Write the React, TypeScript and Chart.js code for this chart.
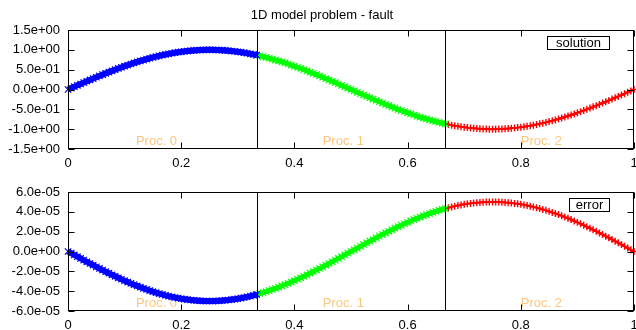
import React, { useEffect, useRef } from 'react';
import { Chart, registerables } from 'chart.js';

Chart.register(...registerables);

// ---------- data ----------
const chartTitle = '1D model problem - fault';
const xTickValues = [0, 0.2, 0.4, 0.6, 0.8, 1];
const xTickLabels = ['0', '0.2', '0.4', '0.6', '0.8', '1'];
const solutionTickValues = [-1.5, -1, -0.5, 0, 0.5, 1, 1.5];
const solutionTickLabels = ['-1.5e+00', '-1.0e+00', '-5.0e-01', '0.0e+00', '5.0e-01', '1.0e+00', '1.5e+00'];
const errorTickValues = [-6e-5, -4e-5, -2e-5, 0, 2e-5, 4e-5, 6e-5];
const errorTickLabels = ['-6.0e-05', '-4.0e-05', '-2.0e-05', '0.0e+00', '2.0e-05', '4.0e-05', '6.0e-05'];

// samples evenly spaced over [0, 1] (181 samples)
const solution = [
  0, 0.035, 0.070, 0.105, 0.139, 0.174, 0.208, 0.242, 0.276, 0.309,
  0.342, 0.375, 0.407, 0.438, 0.469, 0.500, 0.530, 0.559, 0.588, 0.616,
  0.643, 0.669, 0.695, 0.719, 0.743, 0.766, 0.788, 0.809, 0.829, 0.848,
  0.866, 0.883, 0.899, 0.914, 0.927, 0.940, 0.951, 0.961, 0.970, 0.978,
  0.985, 0.990, 0.995, 0.998, 0.999, 1.000, 0.999, 0.998, 0.995, 0.990,
  0.985, 0.978, 0.970, 0.961, 0.951, 0.940, 0.927, 0.914, 0.899, 0.883,
  0.866, 0.848, 0.829, 0.809, 0.788, 0.766, 0.743, 0.719, 0.695, 0.669,
  0.643, 0.616, 0.588, 0.559, 0.530, 0.500, 0.469, 0.438, 0.407, 0.375,
  0.342, 0.309, 0.276, 0.242, 0.208, 0.174, 0.139, 0.105, 0.070, 0.035,
  0,
  -0.035, -0.070, -0.105, -0.139, -0.174, -0.208, -0.242, -0.276, -0.309, -0.342,
  -0.375, -0.407, -0.438, -0.469, -0.500, -0.530, -0.559, -0.588, -0.616, -0.643,
  -0.669, -0.695, -0.719, -0.743, -0.766, -0.788, -0.809, -0.829, -0.848, -0.866,
  -0.883, -0.899, -0.914, -0.927, -0.940, -0.951, -0.961, -0.970, -0.978, -0.985,
  -0.990, -0.995, -0.998, -0.999, -1.000, -0.999, -0.998, -0.995, -0.990, -0.985,
  -0.978, -0.970, -0.961, -0.951, -0.940, -0.927, -0.914, -0.899, -0.883, -0.866,
  -0.848, -0.829, -0.809, -0.788, -0.766, -0.743, -0.719, -0.695, -0.669, -0.643,
  -0.616, -0.588, -0.559, -0.530, -0.500, -0.469, -0.438, -0.407, -0.375, -0.342,
  -0.309, -0.276, -0.242, -0.208, -0.174, -0.139, -0.105, -0.070, -0.035, 0,
];

// error, in units of 1e-5
const errorE5 = [
  0, -0.17, -0.35, -0.52, -0.70, -0.87, -1.04, -1.21, -1.38, -1.55,
  -1.71, -1.87, -2.04, -2.19, -2.35, -2.50, -2.65, -2.80, -2.94, -3.08,
  -3.22, -3.35, -3.47, -3.60, -3.72, -3.83, -3.94, -4.05, -4.15, -4.24,
  -4.33, -4.42, -4.50, -4.57, -4.64, -4.70, -4.76, -4.81, -4.85, -4.89,
  -4.92, -4.95, -4.97, -4.99, -5.00, -5.00, -5.00, -4.99, -4.97, -4.95,
  -4.92, -4.89, -4.85, -4.81, -4.76, -4.70, -4.64, -4.57, -4.50, -4.42,
  -4.33, -4.24, -4.15, -4.05, -3.94, -3.83, -3.72, -3.60, -3.47, -3.35,
  -3.22, -3.08, -2.94, -2.80, -2.65, -2.50, -2.35, -2.19, -2.04, -1.87,
  -1.71, -1.55, -1.38, -1.21, -1.04, -0.87, -0.70, -0.52, -0.35, -0.17,
  0,
  0.17, 0.35, 0.52, 0.70, 0.87, 1.04, 1.21, 1.38, 1.55, 1.71,
  1.87, 2.04, 2.19, 2.35, 2.50, 2.65, 2.80, 2.94, 3.08, 3.22,
  3.35, 3.47, 3.60, 3.72, 3.83, 3.94, 4.05, 4.15, 4.24, 4.33,
  4.42, 4.50, 4.57, 4.64, 4.70, 4.76, 4.81, 4.85, 4.89, 4.92,
  4.95, 4.97, 4.99, 5.00, 5.00, 5.00, 4.99, 4.97, 4.95, 4.92,
  4.89, 4.85, 4.81, 4.76, 4.70, 4.64, 4.57, 4.50, 4.42, 4.33,
  4.24, 4.15, 4.05, 3.94, 3.83, 3.72, 3.60, 3.47, 3.35, 3.22,
  3.08, 2.94, 2.80, 2.65, 2.50, 2.35, 2.19, 2.04, 1.87, 1.71,
  1.55, 1.38, 1.21, 1.04, 0.87, 0.70, 0.52, 0.35, 0.17, 0,
];

const procNames = ['Proc. 0', 'Proc. 1', 'Proc. 2'];
const procFirstSample = [0, 60, 120];
const procLastSample = [60, 120, 180];
const procBoundaries = [1 / 3, 2 / 3];
const procLabelX = [0.12, 0.45, 0.8];

// ---------- styles ----------
const FONT = "'Liberation Sans', Arial, Helvetica, sans-serif";
const CANVAS_W = 640; // wider than the view; the right edge is cut like the reference
const procStyles = [
  { color: '#0000ff', pointStyle: 'crossRot', lineWidth: 6, radius: 4.5, pw: 1.2 },
  { color: '#00ff00', pointStyle: 'crossRot', lineWidth: 5, radius: 4.5, pw: 1.2 },
  { color: '#ff0000', pointStyle: 'cross', lineWidth: 2, radius: 3.5, pw: 1.4 },
];

function buildDatasets(values: number[], scale: number) {
  const n = values.length - 1;
  return procNames.map((name, p) => {
    const st = procStyles[p];
    const pts = [] as { x: number; y: number }[];
    for (let i = procFirstSample[p]; i <= procLastSample[p]; i++) {
      pts.push({ x: i / n, y: values[i] * scale });
    }
    return {
      label: name,
      data: pts,
      showLine: true,
      borderColor: st.color,
      borderWidth: st.lineWidth,
      pointStyle: st.pointStyle,
      pointRadius: st.radius,
      pointBorderWidth: st.pw,
      pointBorderColor: st.color,
      pointBackgroundColor: st.color,
      clip: false,
    } as any;
  });
}

function decorPlugin(cfg: {
  title?: string;
  legendLabel: string;
  legendWidth: number;
  yTicks: number[];
}) {
  return {
    id: 'decor',
    beforeDatasetsDraw(chart: any) {
      const { ctx, chartArea: a, scales } = chart;
      ctx.save();
      ctx.font = `13px ${FONT}`;
      ctx.fillStyle = '#fbc67d';
      ctx.textAlign = 'left';
      ctx.textBaseline = 'middle';
      procNames.forEach((nm, i) => {
        ctx.fillText(nm, scales.x.getPixelForValue(procLabelX[i]), a.bottom - 8);
      });
      ctx.restore();
    },
    afterDatasetsDraw(chart: any) {
      const { ctx, chartArea: a, scales } = chart;
      const L = Math.round(a.left) + 0.5;
      const R = Math.round(a.right) - 0.5;
      const T = Math.round(a.top) + 0.5;
      const B = Math.round(a.bottom) - 0.5;
      ctx.save();
      ctx.strokeStyle = '#000';
      ctx.lineWidth = 1;
      procBoundaries.forEach((bx) => {
        const px = Math.round(scales.x.getPixelForValue(bx)) + 0.5;
        ctx.beginPath();
        ctx.moveTo(px, T);
        ctx.lineTo(px, B);
        ctx.stroke();
      });
      ctx.strokeRect(L, T, R - L, B - T);
      const tl = 6;
      ctx.beginPath();
      xTickValues.forEach((v) => {
        const px = Math.round(scales.x.getPixelForValue(v)) + 0.5;
        ctx.moveTo(px, B);
        ctx.lineTo(px, B - tl);
        ctx.moveTo(px, T);
        ctx.lineTo(px, T + tl);
      });
      cfg.yTicks.forEach((v) => {
        const py = Math.round(scales.y.getPixelForValue(v)) + 0.5;
        ctx.moveTo(L, py);
        ctx.lineTo(L + tl, py);
        ctx.moveTo(R, py);
        ctx.lineTo(R - tl, py);
      });
      ctx.stroke();
      const bw = cfg.legendWidth;
      const bx = Math.round(a.right - 25 - bw) + 0.5;
      const by = Math.round(a.top + 6) + 0.5;
      ctx.strokeRect(bx, by, bw, 13);
      ctx.fillStyle = '#000';
      ctx.font = `13px ${FONT}`;
      ctx.textAlign = 'center';
      ctx.textBaseline = 'middle';
      ctx.fillText(cfg.legendLabel, bx + bw / 2, by + 7);
      if (cfg.title) {
        ctx.fillText(cfg.title, 322, 15);
      }
      ctx.restore();
    },
  };
}

function makeOptions(opts: {
  padTop: number;
  xHeight: number;
  yTicks: number[];
  yLabels: string[];
}) {
  const tickFont = { family: FONT, size: 13 };
  return {
    responsive: false,
    animation: false,
    events: [],
    layout: { padding: { top: opts.padTop, left: 0, right: 6, bottom: 0 } },
    plugins: {
      legend: { display: false },
      tooltip: { enabled: false },
      title: { display: false },
    },
    scales: {
      x: {
        type: 'linear',
        min: 0,
        max: 1,
        grid: { display: false, drawTicks: false },
        border: { display: false },
        afterBuildTicks: (s: any) => {
          s.ticks = xTickValues.map((v) => ({ value: v }));
        },
        ticks: {
          autoSkip: false,
          maxRotation: 0,
          padding: 7,
          color: '#000',
          font: tickFont,
          callback: (_v: any, i: number) => xTickLabels[i],
        },
        afterFit: (s: any) => {
          s.height = opts.xHeight;
          s.paddingLeft = 0;
          s.paddingRight = 0;
        },
      },
      y: {
        type: 'linear',
        min: opts.yTicks[0],
        max: opts.yTicks[opts.yTicks.length - 1],
        grid: { display: false, drawTicks: false },
        border: { display: false },
        afterBuildTicks: (s: any) => {
          s.ticks = opts.yTicks.map((v) => ({ value: v }));
        },
        ticks: {
          autoSkip: false,
          padding: 8,
          color: '#000',
          font: tickFont,
          callback: (_v: any, i: number) => opts.yLabels[i],
        },
        afterFit: (s: any) => {
          s.width = 68;
          s.paddingTop = 0;
          s.paddingBottom = 0;
        },
      },
    },
  } as any;
}

export default function App() {
  const topRef = useRef<HTMLCanvasElement>(null);
  const botRef = useRef<HTMLCanvasElement>(null);

  useEffect(() => {
    const c1 = new Chart(topRef.current as HTMLCanvasElement, {
      type: 'scatter',
      data: { datasets: buildDatasets(solution, 1) },
      options: makeOptions({
        padTop: 30,
        xHeight: 21,
        yTicks: solutionTickValues,
        yLabels: solutionTickLabels,
      }),
      plugins: [
        decorPlugin({
          title: chartTitle,
          legendLabel: 'solution',
          legendWidth: 62,
          yTicks: solutionTickValues,
        }),
      ],
    } as any);
    const c2 = new Chart(botRef.current as HTMLCanvasElement, {
      type: 'scatter',
      data: { datasets: buildDatasets(errorE5, 1e-5) },
      options: makeOptions({
        padTop: 22,
        xHeight: 19,
        yTicks: errorTickValues,
        yLabels: errorTickLabels,
      }),
      plugins: [
        decorPlugin({
          legendLabel: 'error',
          legendWidth: 40,
          yTicks: errorTickValues,
        }),
      ],
    } as any);
    return () => {
      c1.destroy();
      c2.destroy();
    };
  }, []);

  return (
    <div style={{ position: 'fixed', left: 0, top: 0, width: 636, height: 330, background: '#fff', overflow: 'hidden' }}>
      <canvas ref={topRef} width={CANVAS_W} height={170} style={{ position: 'absolute', left: 0, top: 0, display: 'block' }} />
      <canvas ref={botRef} width={CANVAS_W} height={160} style={{ position: 'absolute', left: 0, top: 170, display: 'block' }} />
    </div>
  );
}
